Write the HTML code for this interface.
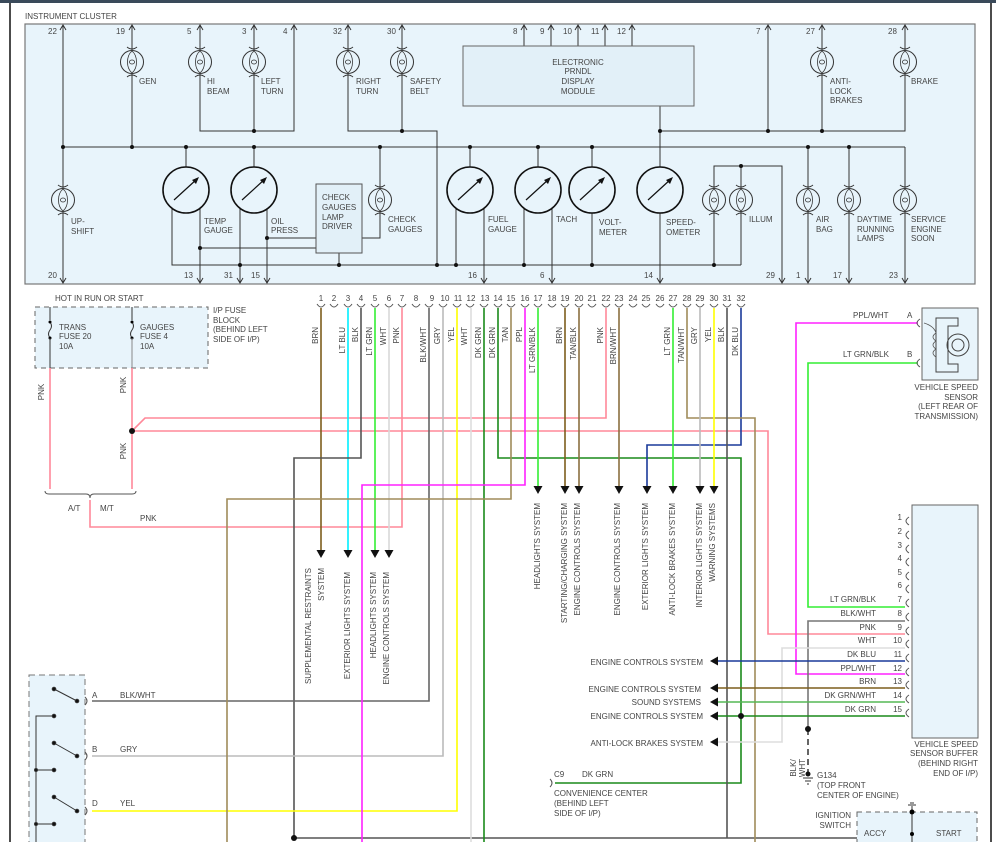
<!DOCTYPE html>
<html><head><meta charset="utf-8"><style>
html,body{margin:0;padding:0;background:#fff}
svg{display:block}
text{font-family:"Liberation Sans",sans-serif;font-size:8px;fill:#444}
</style></head><body>
<svg width="996" height="842" viewBox="0 0 996 842" xmlns="http://www.w3.org/2000/svg">
<defs>
<g id="bulb">
<circle r="11.5" fill="none" stroke="#333" stroke-width="1"/>
<path d="M-5,-15 Q0,-11 5,-15 M-5,15 Q0,11 5,15" fill="none" stroke="#333"/>
<path d="M0,-11 C-6,-6 -6,6 0,11 M0,-11 C6,-6 6,6 0,11" fill="none" stroke="#333" stroke-width="0.8"/>
<ellipse rx="2.5" ry="2" fill="none" stroke="#333" stroke-width="0.8"/>
</g>
<g id="gauge">
<circle r="23" fill="none" stroke="#111" stroke-width="1.6"/>
<line x1="-12" y1="10" x2="11" y2="-11" stroke="#111" stroke-width="1.2"/>
<polygon points="13,-13 6,-10 10,-6" fill="#111"/>
</g>
<g id="up"><path d="M-3,5 L0,0 L3,5" fill="none" stroke="#333"/></g>
<g id="dn"><path d="M-3,-5 L0,0 L3,-5" fill="none" stroke="#333"/></g>
<g id="da"><polygon points="-4.5,-8 4.5,-8 0,0" fill="#111"/></g>
<g id="la"><polygon points="0,0 8,-4.5 8,4.5" fill="#111"/></g>
<g id="br"><path d="M-4,-3 Q0,3 4,-3" fill="none" stroke="#555"/></g>
<g id="rb"><path d="M3,-4 Q-3,0 3,4" fill="none" stroke="#555"/></g>
</defs>

<!-- frame -->
<rect x="0" y="0" width="996" height="3" fill="#3a4a5a"/>
<line x1="10" y1="3" x2="10" y2="842" stroke="#111" stroke-width="1.5"/>
<line x1="991" y1="3" x2="991" y2="842" stroke="#111" stroke-width="1.5"/>

<!-- instrument cluster -->
<text x="25" y="19">INSTRUMENT CLUSTER</text>
<rect x="25" y="24" width="950" height="260" fill="#e8f4fb" stroke="#777" stroke-width="1.2"/>
<g stroke="#333" stroke-width="1" fill="none">
<!-- buses -->
<line x1="63" y1="147" x2="905" y2="147"/>
<polyline points="200,74 200,131 294,131 294,26"/>
<line x1="254" y1="74" x2="254" y2="131"/>
<polyline points="348,74 348,131 437,131 437,265"/>
<line x1="402" y1="74" x2="402" y2="131"/>
<line x1="660" y1="106" x2="660" y2="167"/>
<polyline points="660,131 905,131 905,74"/>
<line x1="768" y1="26" x2="768" y2="131"/>
<line x1="822" y1="74" x2="822" y2="131"/>
<line x1="63" y1="26" x2="63" y2="188"/><line x1="63" y1="212" x2="63" y2="282"/>
<line x1="132" y1="26" x2="132" y2="50"/><line x1="132" y1="74" x2="132" y2="147"/>
<line x1="200" y1="26" x2="200" y2="50"/><line x1="254" y1="26" x2="254" y2="50"/>
<line x1="348" y1="26" x2="348" y2="50"/><line x1="402" y1="26" x2="402" y2="50"/>
<line x1="822" y1="26" x2="822" y2="50"/><line x1="905" y1="26" x2="905" y2="50"/>
<line x1="524" y1="26" x2="524" y2="46"/><line x1="551" y1="26" x2="551" y2="46"/><line x1="578" y1="26" x2="578" y2="46"/><line x1="605" y1="26" x2="605" y2="46"/><line x1="632" y1="26" x2="632" y2="46"/>
<!-- gauges legs -->
<line x1="186" y1="147" x2="186" y2="167"/><polyline points="172,208 172,265 741,265"/><line x1="200" y1="208" x2="200" y2="282"/>
<line x1="254" y1="147" x2="254" y2="167"/><line x1="240" y1="208" x2="240" y2="282"/><line x1="267" y1="208" x2="267" y2="282"/>
<line x1="200" y1="248" x2="316" y2="248"/><line x1="267" y1="238" x2="316" y2="238"/>
<line x1="339" y1="253" x2="339" y2="265"/>
<line x1="380" y1="147" x2="380" y2="188"/><polyline points="380,212 380,238 362,238"/>
<line x1="470" y1="147" x2="470" y2="167"/><line x1="456" y1="208" x2="456" y2="265"/><line x1="484" y1="208" x2="484" y2="282"/>
<line x1="538" y1="147" x2="538" y2="167"/><line x1="524" y1="208" x2="524" y2="265"/><line x1="552" y1="208" x2="552" y2="282"/>
<line x1="592" y1="147" x2="592" y2="167"/><line x1="592" y1="213" x2="592" y2="265"/>
<line x1="660" y1="213" x2="660" y2="282"/>
<polyline points="714,188 714,166 782,166 782,282"/><line x1="741" y1="166" x2="741" y2="188"/>
<line x1="714" y1="212" x2="714" y2="265"/><line x1="741" y1="212" x2="741" y2="265"/>
<line x1="808" y1="147" x2="808" y2="188"/><line x1="808" y1="212" x2="808" y2="282"/>
<line x1="849" y1="147" x2="849" y2="188"/><line x1="849" y1="212" x2="849" y2="282"/>
<line x1="905" y1="147" x2="905" y2="188"/><line x1="905" y1="212" x2="905" y2="282"/>
</g>
<g fill="#111">
<circle cx="63" cy="147" r="2"/><circle cx="132" cy="147" r="2"/><circle cx="186" cy="147" r="2"/><circle cx="254" cy="147" r="2"/><circle cx="380" cy="147" r="2"/><circle cx="470" cy="147" r="2"/><circle cx="538" cy="147" r="2"/><circle cx="592" cy="147" r="2"/><circle cx="808" cy="147" r="2"/><circle cx="849" cy="147" r="2"/>
<circle cx="254" cy="131" r="2"/><circle cx="402" cy="131" r="2"/><circle cx="660" cy="131" r="2"/><circle cx="768" cy="131" r="2"/><circle cx="822" cy="131" r="2"/>
<circle cx="200" cy="248" r="2"/><circle cx="267" cy="238" r="2"/><circle cx="240" cy="265" r="2"/><circle cx="339" cy="265" r="2"/><circle cx="437" cy="265" r="2"/><circle cx="456" cy="265" r="2"/><circle cx="524" cy="265" r="2"/><circle cx="592" cy="265" r="2"/><circle cx="714" cy="265" r="2"/><circle cx="741" cy="166" r="2"/>
</g>
<!-- bulbs -->
<use href="#bulb" x="63" y="200"/><use href="#bulb" x="132" y="62"/><use href="#bulb" x="200" y="62"/><use href="#bulb" x="254" y="62"/>
<use href="#bulb" x="348" y="62"/><use href="#bulb" x="402" y="62"/><use href="#bulb" x="380" y="200"/>
<use href="#bulb" x="822" y="62"/><use href="#bulb" x="905" y="62"/><use href="#bulb" x="714" y="200"/><use href="#bulb" x="741" y="200"/>
<use href="#bulb" x="808" y="200"/><use href="#bulb" x="849" y="200"/><use href="#bulb" x="905" y="200"/>
<!-- gauges -->
<use href="#gauge" x="186" y="190"/><use href="#gauge" x="254" y="190"/><use href="#gauge" x="470" y="190"/><use href="#gauge" x="538" y="190"/><use href="#gauge" x="592" y="190"/><use href="#gauge" x="660" y="190"/>
<rect x="316" y="184" width="46" height="69" fill="#e2f0f8" stroke="#555"/>
<rect x="463" y="46" width="231" height="60" fill="#e2f0f8" stroke="#666"/>
<!-- pin arrows -->
<g>
<use href="#up" x="63" y="25"/><use href="#up" x="132" y="25"/><use href="#up" x="200" y="25"/><use href="#up" x="254" y="25"/><use href="#up" x="294" y="25"/><use href="#up" x="348" y="25"/><use href="#up" x="402" y="25"/>
<use href="#up" x="524" y="25"/><use href="#up" x="551" y="25"/><use href="#up" x="578" y="25"/><use href="#up" x="605" y="25"/><use href="#up" x="632" y="25"/><use href="#up" x="768" y="25"/><use href="#up" x="822" y="25"/><use href="#up" x="905" y="25"/>
<use href="#dn" x="63" y="283"/><use href="#dn" x="200" y="283"/><use href="#dn" x="240" y="283"/><use href="#dn" x="267" y="283"/><use href="#dn" x="484" y="283"/><use href="#dn" x="552" y="283"/><use href="#dn" x="660" y="283"/><use href="#dn" x="782" y="283"/><use href="#dn" x="808" y="283"/><use href="#dn" x="849" y="283"/><use href="#dn" x="905" y="283"/>
</g>
<g font-size="7.5">
<text x="48" y="34">22</text><text x="116" y="34">19</text><text x="187" y="34">5</text><text x="242" y="34">3</text><text x="283" y="34">4</text><text x="333" y="34">32</text><text x="387" y="34">30</text>
<text x="513" y="34">8</text><text x="540" y="34">9</text><text x="563" y="34">10</text><text x="591" y="34">11</text><text x="617" y="34">12</text><text x="756" y="34">7</text><text x="806" y="34">27</text><text x="888" y="34">28</text>
<text x="48" y="278">20</text><text x="184" y="278">13</text><text x="224" y="278">31</text><text x="251" y="278">15</text><text x="468" y="278">16</text><text x="540" y="278">6</text><text x="644" y="278">14</text><text x="766" y="278">29</text><text x="796" y="278">1</text><text x="833" y="278">17</text><text x="889" y="278">23</text>
</g>
<text x="139" y="84">GEN</text>
<text x="207" y="84">HI</text><text x="207" y="94">BEAM</text>
<text x="261" y="84">LEFT</text><text x="261" y="94">TURN</text>
<text x="356" y="84">RIGHT</text><text x="356" y="94">TURN</text>
<text x="410" y="84">SAFETY</text><text x="410" y="94">BELT</text>
<text x="578" y="65" text-anchor="middle">ELECTRONIC</text><text x="578" y="74" text-anchor="middle">PRNDL</text><text x="578" y="84" text-anchor="middle">DISPLAY</text><text x="578" y="94" text-anchor="middle">MODULE</text>
<text x="830" y="84">ANTI-</text><text x="830" y="94">LOCK</text><text x="830" y="103">BRAKES</text>
<text x="911" y="84">BRAKE</text>
<text x="71" y="224">UP-</text><text x="71" y="234">SHIFT</text>
<text x="204" y="224">TEMP</text><text x="204" y="233">GAUGE</text>
<text x="271" y="224">OIL</text><text x="271" y="233">PRESS</text>
<text x="322" y="200">CHECK</text><text x="322" y="210">GAUGES</text><text x="322" y="220">LAMP</text><text x="322" y="229">DRIVER</text>
<text x="388" y="222">CHECK</text><text x="388" y="232">GAUGES</text>
<text x="488" y="222">FUEL</text><text x="488" y="232">GAUGE</text>
<text x="556" y="222">TACH</text>
<text x="599" y="225">VOLT-</text><text x="599" y="235">METER</text>
<text x="666" y="225">SPEED-</text><text x="666" y="235">OMETER</text>
<text x="749" y="222">ILLUM</text>
<text x="816" y="222">AIR</text><text x="816" y="232">BAG</text>
<text x="857" y="222">DAYTIME</text><text x="857" y="232">RUNNING</text><text x="857" y="241">LAMPS</text>
<text x="911" y="222">SERVICE</text><text x="911" y="232">ENGINE</text><text x="911" y="241">SOON</text>

<!-- fuse block -->
<text x="55" y="301">HOT IN RUN OR START</text>
<rect x="35" y="307" width="173" height="61" fill="#e8f4fb" stroke="#666" stroke-dasharray="5,4"/>
<line x1="50" y1="307" x2="50" y2="320" stroke="#333"/><line x1="132" y1="307" x2="132" y2="320" stroke="#333"/>
<path d="M50,322 q3,4 0,8 q-3,4 0,8 M132,322 q3,4 0,8 q-3,4 0,8" fill="none" stroke="#333"/>
<circle cx="50" cy="322" r="1.5"/><circle cx="50" cy="338" r="1.5"/><circle cx="132" cy="322" r="1.5"/><circle cx="132" cy="338" r="1.5"/>
<line x1="50" y1="338" x2="50" y2="368" stroke="#333"/><line x1="132" y1="338" x2="132" y2="368" stroke="#888"/>
<text x="59" y="330">TRANS</text><text x="59" y="339">FUSE 20</text><text x="59" y="349">10A</text>
<text x="140" y="330">GAUGES</text><text x="140" y="339">FUSE 4</text><text x="140" y="349">10A</text>
<text x="213" y="313">I/P FUSE</text><text x="213" y="323">BLOCK</text><text x="213" y="332">(BEHIND LEFT</text><text x="213" y="342">SIDE OF I/P)</text>

<!-- connector row -->
<g font-size="7.5" text-anchor="middle">
<text x="321" y="301">1</text><text x="334" y="301">2</text><text x="348" y="301">3</text><text x="361" y="301">4</text><text x="375" y="301">5</text><text x="389" y="301">6</text><text x="402" y="301">7</text><text x="416" y="301">8</text><text x="432" y="301">9</text><text x="445" y="301">10</text><text x="458" y="301">11</text><text x="471" y="301">12</text><text x="485" y="301">13</text><text x="498" y="301">14</text><text x="511" y="301">15</text><text x="525" y="301">16</text><text x="538" y="301">17</text><text x="552" y="301">18</text><text x="565" y="301">19</text><text x="579" y="301">20</text><text x="592" y="301">21</text><text x="606" y="301">22</text><text x="619" y="301">23</text><text x="633" y="301">24</text><text x="646" y="301">25</text><text x="660" y="301">26</text><text x="673" y="301">27</text><text x="687" y="301">28</text><text x="700" y="301">29</text><text x="714" y="301">30</text><text x="727" y="301">31</text><text x="741" y="301">32</text>
</g>
<g>
<use href="#br" x="321" y="307"/><use href="#br" x="334" y="307"/><use href="#br" x="348" y="307"/><use href="#br" x="361" y="307"/><use href="#br" x="375" y="307"/><use href="#br" x="389" y="307"/><use href="#br" x="402" y="307"/><use href="#br" x="416" y="307"/><use href="#br" x="429" y="307"/><use href="#br" x="443" y="307"/><use href="#br" x="457" y="307"/><use href="#br" x="470" y="307"/><use href="#br" x="484" y="307"/><use href="#br" x="498" y="307"/><use href="#br" x="511" y="307"/><use href="#br" x="525" y="307"/><use href="#br" x="538" y="307"/><use href="#br" x="552" y="307"/><use href="#br" x="565" y="307"/><use href="#br" x="579" y="307"/><use href="#br" x="592" y="307"/><use href="#br" x="606" y="307"/><use href="#br" x="619" y="307"/><use href="#br" x="633" y="307"/><use href="#br" x="646" y="307"/><use href="#br" x="660" y="307"/><use href="#br" x="673" y="307"/><use href="#br" x="687" y="307"/><use href="#br" x="700" y="307"/><use href="#br" x="714" y="307"/><use href="#br" x="727" y="307"/><use href="#br" x="741" y="307"/>
</g>

<!-- wires -->
<g fill="none" stroke-width="1.6">
<!-- pink from fuses -->
<polyline points="50,368 50,489" stroke="#ff8899"/>
<polyline points="132,368 132,489" stroke="#ff8899"/>
<polyline points="132,431 145,418 606,418 606,308" stroke="#ff8899"/>
<polyline points="132,431 768,431 768,634 905,634" stroke="#ff8899"/>
<polyline points="90,500 90,527 402,527 402,308" stroke="#ff8899"/>
<!-- pins -->
<polyline points="321,308 321,552" stroke="#7d5e1d"/>
<polyline points="348,308 348,552" stroke="#00eeff"/>
<polyline points="361,308 361,458 294,458 294,838 905,838" stroke="#555"/>
<polyline points="375,308 375,552" stroke="#33ee33"/>
<polyline points="389,308 389,552" stroke="#d8d8d8"/>
<polyline points="429,308 429,701 92,701" stroke="#666"/>
<polyline points="443,308 443,756 92,756" stroke="#bbb"/>
<polyline points="457,308 457,811 92,811" stroke="#ffff00"/>
<polyline points="471,308 471,842" stroke="#ddd"/>
<polyline points="484,308 484,842" stroke="#1a8a1a"/>
<polyline points="498,308 498,458 741,458 741,783 555,783" stroke="#1a8a1a"/>
<polyline points="511,308 511,499 227,499 227,842" stroke="#a08c5a"/>
<polyline points="525,308 525,485 362,485 362,842" stroke="#ff22ff"/>
<polyline points="538,308 538,486" stroke="#33ee33"/>
<polyline points="565,308 565,486" stroke="#7d5e1d"/>
<polyline points="579,308 579,486" stroke="#8a7040"/>
<polyline points="619,308 619,486" stroke="#8a7040"/>
<polyline points="741,308 741,445 647,445 647,486" stroke="#1a3a9a"/>
<polyline points="673,308 673,486" stroke="#33ee33"/>
<polyline points="687,308 687,418 755,418 755,842" stroke="#a08c5a"/>
<polyline points="700,308 700,486" stroke="#bbb"/>
<polyline points="714,308 714,486" stroke="#ffff00"/>
<polyline points="727,308 727,838" stroke="#555"/>
<!-- vss / buffer -->
<polyline points="918,323 796,323 796,674 905,674" stroke="#ff22ff"/>
<polyline points="918,363 808,363 808,607 905,607" stroke="#33ee33"/>
<polyline points="905,621 808,621 808,729" stroke="#777"/>
<polyline points="905,648 782,648 782,742 716,742" stroke="#ddd"/>
<polyline points="905,661 716,661" stroke="#1a3a9a"/>
<polyline points="905,688 716,688" stroke="#7d5e1d"/>
<polyline points="905,702 716,702" stroke="#55b855"/>
<polyline points="905,716 716,716" stroke="#1a8a1a"/>
</g>
<line x1="808" y1="729" x2="808" y2="774" stroke="#333" stroke-width="1.5" stroke-dasharray="6,4"/>
<g fill="#111"><circle cx="132" cy="431" r="3"/><circle cx="741" cy="716" r="3"/><circle cx="808" cy="729" r="3"/><circle cx="294" cy="838" r="3"/><circle cx="808" cy="774" r="2.5"/></g>
<path d="M803,778 h10 M805,781 h6 M807,784 h2" stroke="#333"/>

<!-- wire labels -->
<g font-size="7.5">
<text transform="translate(318,327) rotate(-90)" text-anchor="end">BRN</text>
<text transform="translate(345,327) rotate(-90)" text-anchor="end">LT BLU</text>
<text transform="translate(358,327) rotate(-90)" text-anchor="end">BLK</text>
<text transform="translate(372,327) rotate(-90)" text-anchor="end">LT GRN</text>
<text transform="translate(386,327) rotate(-90)" text-anchor="end">WHT</text>
<text transform="translate(399,327) rotate(-90)" text-anchor="end">PNK</text>
<text transform="translate(426,327) rotate(-90)" text-anchor="end">BLK/WHT</text>
<text transform="translate(440,327) rotate(-90)" text-anchor="end">GRY</text>
<text transform="translate(454,327) rotate(-90)" text-anchor="end">YEL</text>
<text transform="translate(467,327) rotate(-90)" text-anchor="end">WHT</text>
<text transform="translate(481,327) rotate(-90)" text-anchor="end">DK GRN</text>
<text transform="translate(495,327) rotate(-90)" text-anchor="end">DK GRN</text>
<text transform="translate(508,327) rotate(-90)" text-anchor="end">TAN</text>
<text transform="translate(522,327) rotate(-90)" text-anchor="end">PPL</text>
<text transform="translate(535,327) rotate(-90)" text-anchor="end">LT GRN/BLK</text>
<text transform="translate(562,327) rotate(-90)" text-anchor="end">BRN</text>
<text transform="translate(576,327) rotate(-90)" text-anchor="end">TAN/BLK</text>
<text transform="translate(603,327) rotate(-90)" text-anchor="end">PNK</text>
<text transform="translate(616,327) rotate(-90)" text-anchor="end">BRN/WHT</text>
<text transform="translate(670,327) rotate(-90)" text-anchor="end">LT GRN</text>
<text transform="translate(684,327) rotate(-90)" text-anchor="end">TAN/WHT</text>
<text transform="translate(697,327) rotate(-90)" text-anchor="end">GRY</text>
<text transform="translate(711,327) rotate(-90)" text-anchor="end">YEL</text>
<text transform="translate(724,327) rotate(-90)" text-anchor="end">BLK</text>
<text transform="translate(738,327) rotate(-90)" text-anchor="end">DK BLU</text>
<text transform="translate(44,392) rotate(-90)" text-anchor="middle">PNK</text>
<text transform="translate(126,385) rotate(-90)" text-anchor="middle">PNK</text>
<text transform="translate(126,451) rotate(-90)" text-anchor="middle">PNK</text>
</g>
<!-- brace -->
<path d="M45,491 q0,3 4,3 h37 q4,0 4,4 q0,-4 4,-4 h38 q4,0 4,-3" fill="none" stroke="#555"/>
<text x="68" y="511">A/T</text><text x="100" y="511">M/T</text><text x="140" y="521">PNK</text>

<!-- down arrows -->
<use href="#da" x="321" y="558"/><use href="#da" x="348" y="558"/><use href="#da" x="375" y="558"/><use href="#da" x="389" y="558"/>
<use href="#da" x="538" y="494"/><use href="#da" x="565" y="494"/><use href="#da" x="579" y="494"/><use href="#da" x="619" y="494"/><use href="#da" x="647" y="494"/><use href="#da" x="673" y="494"/><use href="#da" x="700" y="494"/><use href="#da" x="714" y="494"/>
<g font-size="7.5">
<text transform="translate(311,568) rotate(-90)" text-anchor="end">SUPPLEMENTAL RESTRAINTS</text>
<text transform="translate(324,568) rotate(-90)" text-anchor="end">SYSTEM</text>
<text transform="translate(350,572) rotate(-90)" text-anchor="end">EXTERIOR LIGHTS SYSTEM</text>
<text transform="translate(376,572) rotate(-90)" text-anchor="end">HEADLIGHTS SYSTEM</text>
<text transform="translate(389,572) rotate(-90)" text-anchor="end">ENGINE CONTROLS SYSTEM</text>
<text transform="translate(540,503) rotate(-90)" text-anchor="end">HEADLIGHTS SYSTEM</text>
<text transform="translate(567,503) rotate(-90)" text-anchor="end">STARTING/CHARGING SYSTEM</text>
<text transform="translate(580,503) rotate(-90)" text-anchor="end">ENGINE CONTROLS SYSTEM</text>
<text transform="translate(620,503) rotate(-90)" text-anchor="end">ENGINE CONTROLS SYSTEM</text>
<text transform="translate(648,503) rotate(-90)" text-anchor="end">EXTERIOR LIGHTS SYSTEM</text>
<text transform="translate(675,503) rotate(-90)" text-anchor="end">ANTI-LOCK BRAKES SYSTEM</text>
<text transform="translate(702,503) rotate(-90)" text-anchor="end">INTERIOR LIGHTS SYSTEM</text>
<text transform="translate(715,503) rotate(-90)" text-anchor="end">WARNING SYSTEMS</text>
</g>
<!-- left arrows -->
<use href="#la" x="710" y="661"/><use href="#la" x="710" y="688"/><use href="#la" x="710" y="702"/><use href="#la" x="710" y="716"/><use href="#la" x="710" y="742"/>
<g text-anchor="end">
<text x="703" y="665">ENGINE CONTROLS SYSTEM</text>
<text x="701" y="692">ENGINE CONTROLS SYSTEM</text>
<text x="701" y="705">SOUND SYSTEMS</text>
<text x="703" y="719">ENGINE CONTROLS SYSTEM</text>
<text x="703" y="746">ANTI-LOCK BRAKES SYSTEM</text>
</g>
<!-- C9 -->
<path d="M550,779 q4,4 0,8" fill="none" stroke="#555"/>
<text x="554" y="777">C9</text><text x="582" y="777">DK GRN</text>
<text x="554" y="796">CONVENIENCE CENTER</text><text x="554" y="806">(BEHIND LEFT</text><text x="554" y="816">SIDE OF I/P)</text>

<!-- vehicle speed sensor -->
<rect x="922" y="308" width="56" height="72" fill="#e8f4fb" stroke="#666"/>
<path d="M936,318 h22 v8 h-10 v38 h10 v8 h-22 z" fill="none" stroke="#444"/>
<circle cx="958" cy="345" r="11" fill="none" stroke="#444"/>
<circle cx="958" cy="345" r="6" fill="none" stroke="#444"/>
<path d="M924,323 q10,3 12,10 q-6,4 0,8 q-6,4 0,8 q-6,4 0,8" fill="none" stroke="#555" stroke-width="0.8"/>
<use href="#rb" x="917" y="323"/><use href="#rb" x="917" y="363"/>
<text x="853" y="318">PPL/WHT</text><text x="907" y="318">A</text>
<text x="843" y="357">LT GRN/BLK</text><text x="907" y="357">B</text>
<g text-anchor="end"><text x="978" y="390">VEHICLE SPEED</text><text x="978" y="400">SENSOR</text><text x="978" y="409">(LEFT REAR OF</text><text x="978" y="419">TRANSMISSION)</text></g>

<!-- buffer -->
<rect x="912" y="505" width="66" height="233" fill="#e8f4fb" stroke="#666"/>
<g font-size="7.5" text-anchor="end">
<text x="902" y="520">1</text><text x="902" y="534">2</text><text x="902" y="548">3</text><text x="902" y="561">4</text><text x="902" y="575">5</text><text x="902" y="588">6</text><text x="902" y="602">7</text><text x="902" y="616">8</text><text x="902" y="630">9</text><text x="902" y="643">10</text><text x="902" y="657">11</text><text x="902" y="671">12</text><text x="902" y="684">13</text><text x="902" y="698">14</text><text x="902" y="712">15</text>
<text x="876" y="602">LT GRN/BLK</text><text x="876" y="616">BLK/WHT</text><text x="876" y="630">PNK</text><text x="876" y="643">WHT</text><text x="876" y="657">DK BLU</text><text x="876" y="671">PPL/WHT</text><text x="876" y="684">BRN</text><text x="876" y="698">DK GRN/WHT</text><text x="876" y="712">DK GRN</text>
</g>
<g><use href="#rb" x="906" y="521"/><use href="#rb" x="906" y="535"/><use href="#rb" x="906" y="549"/><use href="#rb" x="906" y="562"/><use href="#rb" x="906" y="576"/><use href="#rb" x="906" y="589"/><use href="#rb" x="906" y="603"/><use href="#rb" x="906" y="617"/><use href="#rb" x="906" y="631"/><use href="#rb" x="906" y="644"/><use href="#rb" x="906" y="658"/><use href="#rb" x="906" y="672"/><use href="#rb" x="906" y="685"/><use href="#rb" x="906" y="699"/><use href="#rb" x="906" y="713"/></g>
<g text-anchor="end"><text x="978" y="747">VEHICLE SPEED</text><text x="978" y="756">SENSOR BUFFER</text><text x="978" y="766">(BEHIND RIGHT</text><text x="978" y="776">END OF I/P)</text></g>
<text transform="translate(796,768) rotate(-90)" text-anchor="middle">BLK/</text>
<text transform="translate(805,768) rotate(-90)" text-anchor="middle">WHT</text>
<text x="817" y="778">G134</text><text x="817" y="788">(TOP FRONT</text><text x="817" y="798">CENTER OF ENGINE)</text>

<!-- ignition switch -->
<text x="851" y="818" text-anchor="end">IGNITION</text><text x="851" y="828" text-anchor="end">SWITCH</text>
<rect x="857" y="812" width="120" height="40" fill="#e8f4fb" stroke="#666" stroke-dasharray="5,4"/>
<line x1="912" y1="806" x2="912" y2="842" stroke="#333"/><circle cx="912" cy="812" r="2.5"/><circle cx="912" cy="834" r="2"/>
<path d="M908,805 h8 M910,803 h4" stroke="#333"/>
<text x="864" y="836">ACCY</text><text x="936" y="836">START</text>

<!-- left switch -->
<rect x="29" y="675" width="56" height="180" fill="#e8f4fb" stroke="#777" stroke-dasharray="6,4"/>
<g stroke="#333" fill="#111">
<line x1="54" y1="689" x2="77" y2="701"/><circle cx="54" cy="689" r="1.8"/><circle cx="77" cy="701" r="1.8"/>
<line x1="54" y1="743" x2="77" y2="756"/><circle cx="54" cy="743" r="1.8"/><circle cx="77" cy="756" r="1.8"/>
<line x1="54" y1="797" x2="77" y2="811"/><circle cx="54" cy="797" r="1.8"/><circle cx="77" cy="811" r="1.8"/>
<polyline points="54,716 36,716 36,842" fill="none"/><circle cx="54" cy="716" r="1.8"/>
<line x1="36" y1="770" x2="54" y2="770"/><circle cx="54" cy="770" r="1.8"/><circle cx="36" cy="770" r="1.5"/>
<line x1="36" y1="824" x2="54" y2="824"/><circle cx="54" cy="824" r="1.8"/><circle cx="36" cy="824" r="1.5"/>
</g>
<path d="M85,697 q4,4 0,8 M85,752 q4,4 0,8 M85,807 q4,4 0,8" fill="none" stroke="#555"/>
<text x="92" y="698">A</text><text x="120" y="698">BLK/WHT</text>
<text x="92" y="752">B</text><text x="120" y="752">GRY</text>
<text x="92" y="806">D</text><text x="120" y="806">YEL</text>
</svg>
</body></html>
